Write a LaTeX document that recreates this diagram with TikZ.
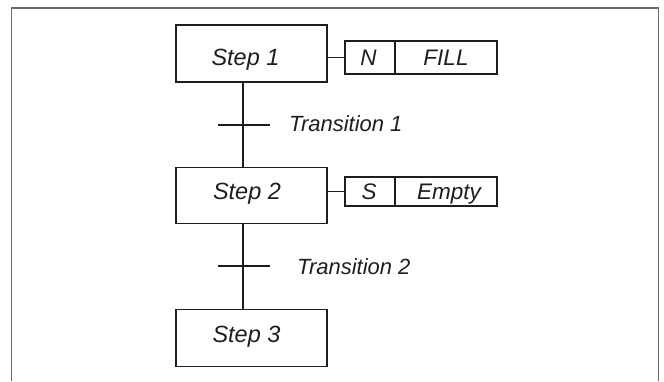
\documentclass[tikz,border=0pt]{standalone}
\usepackage{fontspec}
\setmainfont{Liberation Sans}
\definecolor{ink}{HTML}{1E1E1E}
\definecolor{framec}{HTML}{6A6A6A}
\begin{document}
\begin{tikzpicture}[x=1pt,y=-1pt,
  stepbox/.style={draw=ink,line width=1.4pt,minimum width=151pt,minimum height=57pt,inner sep=0pt},
  actbox/.style={draw=ink,line width=1.3pt,minimum height=33pt,inner sep=0pt},
  stext/.style={anchor=base,inner sep=0pt,font=\fontsize{23.5}{28}\selectfont\itshape,text=ink},
  atext/.style={anchor=base,inner sep=0pt,font=\fontsize{22.5}{27}\selectfont\itshape,text=ink},
  link/.style={draw=ink,line width=1.3pt},
  bar/.style={draw=ink,line width=2.8pt},
  tlabel/.style={anchor=base west,inner sep=0pt,font=\fontsize{22}{26}\selectfont\itshape,text=ink}]
\useasboundingbox (0,0) rectangle (664,381);
\draw[framec,line width=1.4pt] (11.5,381) -- (11.5,8) -- (658.5,8) -- (658.5,381);
% steps
\node[stepbox] (s1) at (251.5,53.3) {};
\node[stepbox,minimum height=56pt] (s2) at (251.5,195.3) {};
\node[stepbox] (s3) at (251.5,338) {};
\node[stext] (s1t) at (245.5,65) {Step 1};
\node[stext] (s2t) at (247,199.5) {Step 2};
\node[stext] (s3t) at (246.5,342) {Step 3};
% actions
\node[actbox,minimum width=50pt] (q1) at (370,57.5) {};
\node[actbox,minimum width=102pt] (n1) at (446,57.5) {};
\node[actbox,minimum width=50pt,minimum height=29pt] (q2) at (370,191.5) {};
\node[actbox,minimum width=102pt,minimum height=29pt] (n2) at (446,191.5) {};
\node[atext] (q1t) at (368.5,65.7) {N};
\node[atext] (n1t) at (446,65.7) {FILL};
\node[atext] (q2t) at (369,199.5) {S};
\node[atext] (n2t) at (449,199.5) {Empty};
% transitions
\coordinate (t1) at (243,125);
\coordinate (t2) at (243,266);
\node[tlabel] (l1) at (289,131.7) {Transition 1};
\node[tlabel] (l2) at (297,274) {Transition 2};
% connectors
\draw[link] (s1.south -| t1) -- (s2.north -| t1);
\draw[link] (s2.south -| t1) -- (s3.north -| t1);
\draw[bar] ([xshift=-25pt]t1) -- ([xshift=27pt]t1);
\draw[bar] ([xshift=-25pt]t2) -- ([xshift=27pt]t2);
\draw[link] (s1.east |- q1.west) -- (q1.west);
\draw[link] (s2.east |- q2.west) -- (q2.west);
\end{tikzpicture}
\end{document}
